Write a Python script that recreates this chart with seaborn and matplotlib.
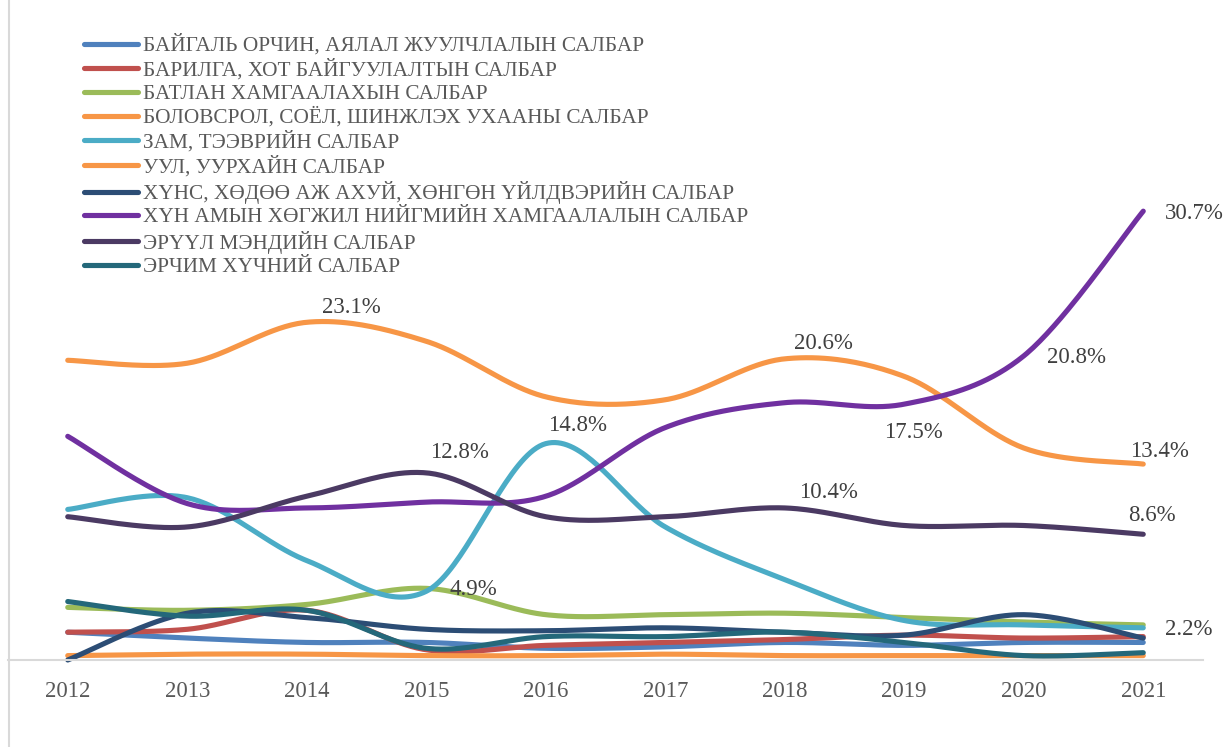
import numpy as np
import pandas as pd
import matplotlib
matplotlib.use("Agg")
import matplotlib.pyplot as plt
import seaborn as sns

years = [2012, 2013, 2014, 2015, 2016, 2017, 2018, 2019, 2020, 2021]

sectors = [
    "БАЙГАЛЬ ОРЧИН, АЯЛАЛ ЖУУЛЧЛАЛЫН САЛБАР",
    "БАРИЛГА, ХОТ БАЙГУУЛАЛТЫН САЛБАР",
    "БАТЛАН ХАМГААЛАХЫН САЛБАР",
    "БОЛОВСРОЛ, СОЁЛ, ШИНЖЛЭХ УХААНЫ САЛБАР",
    "ЗАМ, ТЭЭВРИЙН САЛБАР",
    "УУЛ, УУРХАЙН САЛБАР",
    "ХҮНС, ХӨДӨӨ АЖ АХУЙ, ХӨНГӨН ҮЙЛДВЭРИЙН САЛБАР",
    "ХҮН АМЫН ХӨГЖИЛ НИЙГМИЙН ХАМГААЛАЛЫН САЛБАР",
    "ЭРҮҮЛ МЭНДИЙН САЛБАР",
    "ЭРЧИМ ХҮЧНИЙ САЛБАР",
]

# share of total, %
nature = [1.9, 1.5, 1.2, 1.2, 0.8, 0.9, 1.2, 1.0, 1.2, 1.2]
construction = [1.9, 2.1, 3.4, 0.7, 1.0, 1.2, 1.4, 1.7, 1.5, 1.6]
defence = [3.6, 3.4, 3.8, 4.9, 3.1, 3.1, 3.2, 2.9, 2.6, 2.4]
education = [0.3, 0.4, 0.4, 0.3, 0.3, 0.4, 0.3, 0.3, 0.3, 0.3]
roads = [10.3, 11.1, 6.8, 4.7, 14.8, 9.1, 5.5, 2.7, 2.4, 2.2]
mining = [20.5, 20.3, 23.1, 21.8, 18.0, 17.8, 20.6, 19.4, 14.5, 13.4]
agriculture = [0.0, 3.2, 2.9, 2.1, 2.0, 2.2, 1.9, 1.7, 3.1, 1.5]
social = [15.3, 10.7, 10.4, 10.8, 11.2, 15.9, 17.6, 17.5, 20.8, 30.7]
health = [9.8, 9.1, 11.2, 12.8, 9.8, 9.8, 10.4, 9.2, 9.2, 8.6]
energy = [4.0, 3.0, 3.4, 0.8, 1.6, 1.6, 1.9, 1.2, 0.3, 0.5]

series = [nature, construction, defence, education, roads,
          mining, agriculture, social, health, energy]

colors = ["#4F81BD", "#C0504D", "#9BBB59", "#F79646", "#4BACC6",
          "#F79646", "#2C4D75", "#7030A0", "#4B3A63", "#24687A"]

# (series index, year index, label offset in px: right, up)
labels = [
    (5, 2, 45, 15), (4, 4, 32, 18), (8, 3, 33, 20), (2, 3, 47, -1),
    (5, 6, 39, 15), (7, 8, 53, -2), (7, 7, 9, -28), (8, 6, 44, 15),
    (5, 9, 16, 13), (8, 9, 9, 19), (4, 9, 45, -2), (7, 9, 51, -2),
]


def smooth(x, y, n=40):
    # Excel-style smoothed line: cubic Bezier through every point
    x = np.asarray(x, float)
    y = np.asarray(y, float)
    px = np.concatenate([[x[0]], x, [x[-1]]])
    py = np.concatenate([[y[0]], y, [y[-1]]])
    t = np.linspace(0, 1, n)
    xs, ys = [], []
    for i in range(len(x) - 1):
        p0 = np.array([px[i + 1], py[i + 1]])
        p3 = np.array([px[i + 2], py[i + 2]])
        c1 = p0 + (np.array([px[i + 2], py[i + 2]]) - np.array([px[i], py[i]])) / 6
        c2 = p3 - (np.array([px[i + 3], py[i + 3]]) - np.array([px[i + 1], py[i + 1]])) / 6
        pts = ((1 - t) ** 3)[:, None] * p0 + (3 * (1 - t) ** 2 * t)[:, None] * c1 \
            + (3 * (1 - t) * t ** 2)[:, None] * c2 + (t ** 3)[:, None] * p3
        xs.extend(pts[:, 0])
        ys.extend(pts[:, 1])
    return xs, ys


rows = []
for name, vals in zip(sectors, series):
    sx, sy = smooth(years, vals)
    rows.append(pd.DataFrame({"year": sx, "value": sy, "sector": name}))
df = pd.concat(rows, ignore_index=True)

sns.set_theme(style="white")
plt.rcParams["font.family"] = ["Liberation Serif", "DejaVu Serif"]

fig = plt.figure(figsize=(12.3, 7.47), dpi=100)
ax = fig.add_axes([8 / 1230, 1 - 660 / 747, 1195 / 1230, 630 / 747])

sns.lineplot(data=df, x="year", y="value", hue="sector", hue_order=sectors,
             palette=colors, linewidth=3.7, sort=False, estimator=None,
             ax=ax, legend=True)
for line in ax.lines:
    line.set_solid_capstyle("round")
    line.set_clip_on(False)

ax.set_xlim(2011.5, 2021.5)
ax.set_ylim(0, 630 / 14.62)
ax.set_xticks(years)
ax.set_xticklabels([str(y) for y in years], fontsize=16.5, color="#595959")
ax.tick_params(axis="x", length=0, pad=15)
ax.set_yticks([])
ax.set_xlabel("")
ax.set_ylabel("")
for side in ["top", "right", "left"]:
    ax.spines[side].set_visible(False)
ax.spines["bottom"].set_color("#D9D9D9")
ax.spines["bottom"].set_linewidth(1.5)

for si, yi, dx, dy in labels:
    v = series[si][yi]
    ax.annotate(f"{v:.1f}%", xy=(years[yi], v), xytext=(dx * 0.72, dy * 0.72),
                textcoords="offset points", ha="center", va="center",
                fontsize=16.5, color="#404040")

leg = ax.legend(loc="upper left", bbox_to_anchor=(67 / 1195, 1 + 4 / 630),
                frameon=False, fontsize=15.3, labelcolor="#595959",
                handlelength=2.55, handletextpad=0.25, labelspacing=0.16,
                borderaxespad=0)
for h in leg.get_lines():
    h.set_linewidth(3.7)
    h.set_solid_capstyle("round")

fig.add_artist(plt.Line2D([9 / 1230, 9 / 1230], [0, 1], color="#D9D9D9",
                          linewidth=1.5, transform=fig.transFigure))

fig.savefig("out.png", dpi=100)
